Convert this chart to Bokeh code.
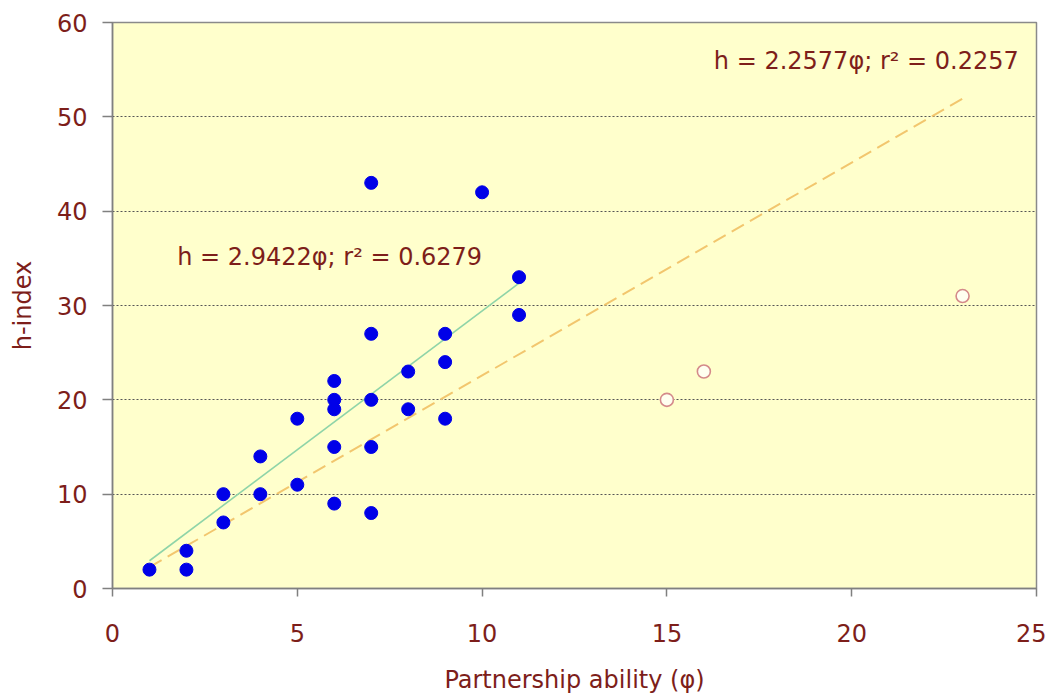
from bokeh.plotting import figure
from bokeh.models import FixedTicker, Range1d, ColumnDataSource
from bokeh.core.properties import value
from bokeh.embed import file_html
from bokeh.resources import INLINE

# ---- data ----
phi_main = [1, 2, 2, 3, 3, 4, 4, 5, 5, 6, 6, 6, 6, 6, 7, 7, 7, 7, 7, 8, 8, 9, 9, 9, 10, 11, 11]
h_main = [2, 2, 4, 7, 10, 10, 14, 11, 18, 9, 15, 19, 20, 22, 8, 15, 20, 27, 43, 19, 23, 18, 24, 27, 42, 29, 33]

phi_extra = [15, 16, 23]
h_extra = [20, 23, 31]

slope_main = 2.9422
slope_all = 2.2577
fit_main_x = [1, 11]
fit_all_x = [1, 23]

x_ticks = [0, 5, 10, 15, 20, 25]
y_ticks = [0, 10, 20, 30, 40, 50, 60]

label_texts = ["h = 2.9422φ; r² = 0.6279", "h = 2.2577φ; r² = 0.2257"]
label_x = [1.75, 24.52]
label_y = [35.1, 55.9]
label_align = ["left", "right"]

FONT = "DejaVu Sans"
TXT = "#7d1e1a"

p = figure(width=1046, height=696, output_backend="svg", toolbar_location=None,
           x_range=Range1d(0, 25), y_range=Range1d(0, 60),
           min_border_left=112, min_border_right=10, min_border_top=22, min_border_bottom=107)

p.background_fill_color = "#FFFFCC"
p.border_fill_color = "white"
p.outline_line_color = "#8a8a8a"
p.outline_line_width = 1.5

p.xgrid.visible = False
p.ygrid.ticker = FixedTicker(ticks=[10, 20, 30, 40, 50])
p.ygrid.grid_line_color = "#555555"
p.ygrid.grid_line_dash = "2 2"
p.ygrid.grid_line_width = 1

for ax, ticks in ((p.xaxis, x_ticks), (p.yaxis, y_ticks)):
    ax.ticker = FixedTicker(ticks=ticks)
    ax.minor_tick_line_color = None
    ax.axis_line_color = "#808080"
    ax.axis_line_width = 1.5
    ax.major_tick_line_color = "#808080"
    ax.major_tick_line_width = 1.5
    ax.major_tick_in = 0
    ax.major_label_text_font = FONT
    ax.major_label_text_font_size = "24px"
    ax.major_label_text_color = TXT
    ax.axis_label_text_font = FONT
    ax.axis_label_text_font_size = "24px"
    ax.axis_label_text_font_style = "normal"
    ax.axis_label_text_color = TXT

p.xaxis.major_tick_out = 8
p.xaxis.major_label_standoff = 27
p.xaxis.axis_label = "Partnership ability (φ)"
p.xaxis.axis_label_standoff = 21

p.yaxis.major_tick_out = 10
p.yaxis.major_label_standoff = 15
p.yaxis.axis_label = "h-index"
p.yaxis.axis_label_standoff = 17

# trend lines
p.line(fit_all_x, [slope_all * v for v in fit_all_x], line_color="#F2C66E",
       line_width=2, line_dash="14 7")
p.line(fit_main_x, [slope_main * v for v in fit_main_x], line_color="#8FD4A8",
       line_width=1.6)

# points
p.scatter(phi_main, h_main, size=13, fill_color="#0000E8", line_color="#0000E8")
p.scatter(phi_extra, h_extra, size=13, fill_color="#FFFFF0", line_color="#D48A8A",
          line_width=1.6)

src = ColumnDataSource(dict(x=label_x, y=label_y, t=label_texts, a=label_align))
p.text(x="x", y="y", text="t", text_align="a", text_baseline="middle",
       text_font=value(FONT), text_font_size="24px", text_color=TXT, source=src)

open("out.html", "w").write(file_html(p, INLINE))
